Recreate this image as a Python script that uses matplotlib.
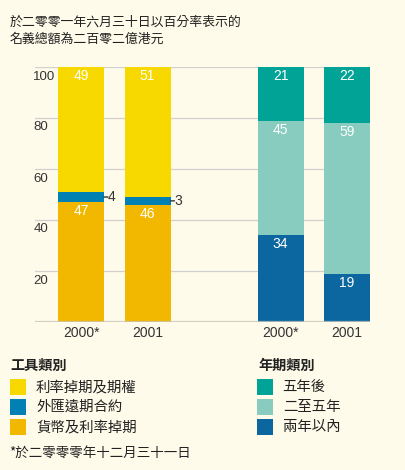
import matplotlib
matplotlib.use('Agg')
import matplotlib.pyplot as plt
from matplotlib.patches import Rectangle

# ---- data ----
years = ['2000*', '2001']
# 工具類別 (bottom -> top)
swaps = [47, 46]        # 貨幣及利率掉期
fx_forward = [4, 3]     # 外匯遠期合約
irs_options = [49, 51]  # 利率掉期及期權
# 年期類別 (bottom -> top)
within_2y = [34, 19]    # 兩年以內
two_to_5y = [45, 59]    # 二至五年
over_5y = [21, 22]      # 五年後
yticks = [20, 40, 60, 80, 100]

title_lines = ['於二零零一年六月三十日以百分率表示的', '名義總額為二百零二億港元']
legend1_title = '工具類別'
legend1_items = ['利率掉期及期權', '外匯遠期合約', '貨幣及利率掉期']
legend2_title = '年期類別'
legend2_items = ['五年後', '二至五年', '兩年以內']
footnote = '*於二零零零年十二月三十一日'

# ---- style ----
BG = '#fffbea'
C_YEL = '#f7d900'
C_BLU = '#0080b3'
C_ORG = '#f2b800'
C_TEAL = '#00a396'
C_LTEAL = '#88cbbf'
C_DBLU = '#0c67a0'
TXT = '#333333'
CJK = ['Noto Sans CJK TC', 'DejaVu Sans']
NUM = ['Liberation Sans', 'DejaVu Sans']

W, H = 406, 470
fig = plt.figure(figsize=(W / 100, H / 100), dpi=100, facecolor=BG)

def fx(px):
    return px / W

def fy(py):
    return 1 - py / H

ax_left, ax_right, ax_top, ax_bot = 35, 370, 67, 322
ax = fig.add_axes([fx(ax_left), fy(ax_bot), fx(ax_right - ax_left), (ax_bot - ax_top) / H])
ax.set_facecolor(BG)

unit = 66.5
pos_left = [0, 1]
pos_right = [3, 4]
bw = 46 / unit
ax.set_xlim((ax_left - 81) / unit, (ax_right - 81) / unit)
ax.set_ylim(0, 100)

# gridlines
for t in yticks:
    ax.axhline(t, color='#d0d0d0', lw=0.9, zorder=0)
ax.axhline(0, color='#c8c4b8', lw=1.6, zorder=3, alpha=0.8)

def stack(positions, series, colors):
    bottoms = [0] * len(positions)
    out = []
    for vals, col in zip(series, colors):
        ax.bar(positions, vals, width=bw, bottom=bottoms, color=col, zorder=2, linewidth=0)
        out.append((vals, list(bottoms)))
        bottoms = [b + v for b, v in zip(bottoms, vals)]
    return out

left = stack(pos_left, [swaps, fx_forward, irs_options], [C_ORG, C_BLU, C_YEL])
right = stack(pos_right, [within_2y, two_to_5y, over_5y], [C_DBLU, C_LTEAL, C_TEAL])

def inner_labels(positions, vals, bottoms):
    for p, v, b in zip(positions, vals, bottoms):
        ax.annotate(str(v), xy=(p, b + v), xytext=(0, -9), textcoords='offset pixels',
                    ha='center', va='center', color='white', fontsize=10, family=NUM, zorder=4)

for i, (vals, bots) in enumerate(left):
    if i == 1:
        for p, v, b in zip(pos_left, vals, bots):
            ax.annotate(str(v), xy=(p + bw / 2, b + v / 2), xytext=(4, 0),
                        textcoords='offset pixels', ha='left', va='center',
                        color=TXT, fontsize=10, family=NUM, zorder=4,
                        arrowprops=dict(arrowstyle='-', color=TXT, lw=1.0,
                                        shrinkA=0, shrinkB=0, patchA=None,
                                        relpos=(0, 0.5)))
    else:
        inner_labels(pos_left, vals, bots)
for vals, bots in right:
    inner_labels(pos_right, vals, bots)

# y tick labels (inside, below gridlines)
for t in yticks:
    ax.annotate(str(t), xy=(-0.005, t), xycoords=('axes fraction', 'data'),
                xytext=(0, -3.5), textcoords='offset pixels', ha='left', va='top',
                color=TXT, fontsize=9.5, family=NUM)

ax.set_yticks([])
ax.set_xticks(pos_left + pos_right)
ax.set_xticklabels(years + years, fontsize=10, color=TXT, family=NUM)
ax.tick_params(axis='x', length=0, pad=3)
for s in ax.spines.values():
    s.set_visible(False)

# title
fig.text(fx(10), fy(21.7), title_lines[0], ha='left', va='center', fontsize=9.3,
         color='#222222', family=CJK)
fig.text(fx(10), fy(39), title_lines[1], ha='left', va='center', fontsize=9.3,
         color='#222222', family=CJK)

# legends
fig.text(fx(10), fy(366), legend1_title, ha='left', va='center', fontsize=10.2,
         fontweight='bold', color='#222222', family=CJK)
fig.text(fx(258), fy(366), legend2_title, ha='left', va='center', fontsize=10.2,
         fontweight='bold', color='#222222', family=CJK)
row_y = [387.2, 407.2, 427.2]
for (sx, tx, items, cols) in [(10, 36, legend1_items, [C_YEL, C_BLU, C_ORG]),
                              (256.7, 282.7, legend2_items, [C_TEAL, C_LTEAL, C_DBLU])]:
    for yy, name, col in zip(row_y, items, cols):
        fig.add_artist(Rectangle((fx(sx), fy(yy + 8)), fx(16), 16 / H,
                                 transform=fig.transFigure, facecolor=col, edgecolor='none'))
        fig.text(fx(tx), fy(yy), name, ha='left', va='center', fontsize=10.4,
                 color='#222222', family=CJK)

fig.text(fx(9), fy(453.3), footnote, ha='left', va='center', fontsize=9.7,
         color='#222222', family=CJK)

fig.savefig('out.png', dpi=100, facecolor=BG)
